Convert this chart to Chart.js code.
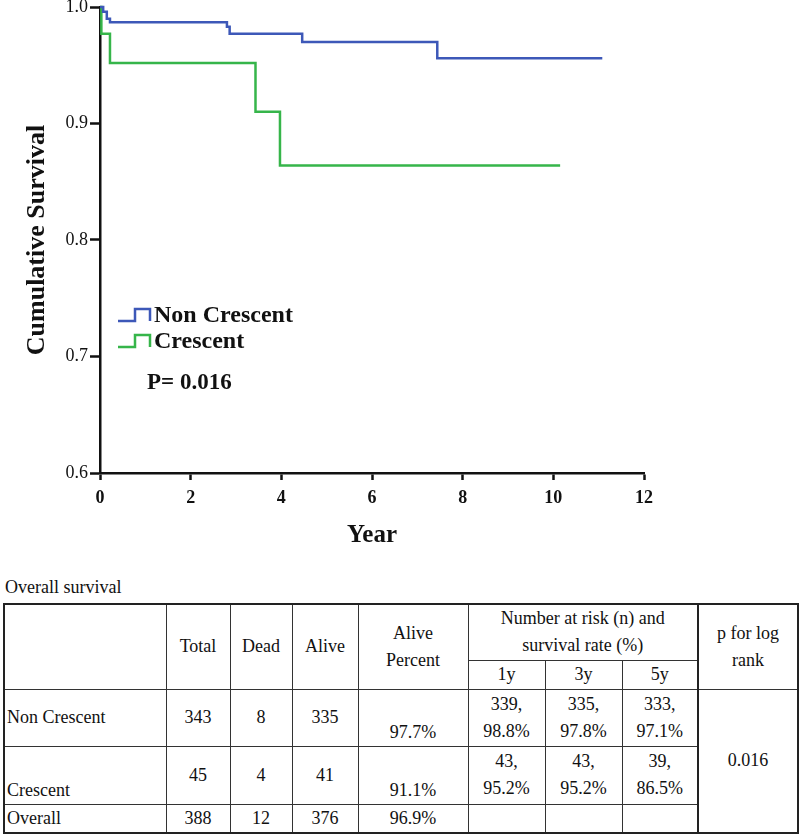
<!DOCTYPE html>
<html>
<head>
<meta charset="utf-8">
<script src="https://cdn.jsdelivr.net/npm/chart.js@4/dist/chart.umd.min.js"></script>
<style>
  body { margin: 0; background: #fff; width: 800px; height: 835px; position: relative; overflow: hidden; font-family: "Liberation Serif", "Times New Roman", serif; }
  #wrap { position: absolute; left: 0; top: 0; width: 800px; height: 560px; }
  #caption { position: absolute; left: 5px; top: 577px; font-size: 18px; color: #111; }
  table { position: absolute; left: 3px; top: 603px; width: 794px; border-collapse: collapse; table-layout: fixed; font-size: 18px; color: #111; border: 2px solid #222; }
  td { border: 1px solid #333; text-align: center; vertical-align: middle; padding: 0; line-height: 27px; }
  td.name { text-align: left; padding-left: 2px; }
  td.bot { vertical-align: bottom; }
  td.pcol { border-left: 2px solid #222; }
</style>
</head>
<body>
<div id="wrap"><canvas id="chart"></canvas></div>
<div id="caption">Overall survival</div>
<table>
  <colgroup>
    <col style="width:162px"><col style="width:64px"><col style="width:62px"><col style="width:66px">
    <col style="width:110px"><col style="width:77px"><col style="width:77px"><col style="width:76px"><col style="width:100px">
  </colgroup>
  <tr style="height:56px">
    <td rowspan="2"></td><td rowspan="2">Total</td><td rowspan="2">Dead</td><td rowspan="2">Alive</td>
    <td rowspan="2">Alive<br>Percent</td>
    <td colspan="3">Number at risk (n) and<br>survival rate (%)</td>
    <td rowspan="2" class="pcol">p for log<br>rank</td>
  </tr>
  <tr style="height:29px"><td>1y</td><td>3y</td><td>5y</td></tr>
  <tr style="height:57px">
    <td class="name">Non Crescent</td><td>343</td><td>8</td><td>335</td><td class="bot">97.7%</td>
    <td>339,<br>98.8%</td><td>335,<br>97.8%</td><td>333,<br>97.1%</td>
    <td rowspan="3" class="pcol">0.016</td>
  </tr>
  <tr style="height:58px">
    <td class="name bot">Crescent</td><td>45</td><td>4</td><td>41</td><td class="bot">91.1%</td>
    <td>43,<br>95.2%</td><td>43,<br>95.2%</td><td>39,<br>86.5%</td>
  </tr>
  <tr style="height:29px">
    <td class="name">Overall</td><td>388</td><td>12</td><td>376</td><td>96.9%</td>
    <td></td><td></td><td></td>
  </tr>
</table>
<script>
// Kaplan-Meier steps (years, cumulative survival)
const nonCrescentYears = [0, 0.07, 0.15, 0.22, 2.80, 2.86, 4.46, 7.44, 11.08];
const nonCrescentSurv  = [1.0, 0.996, 0.990, 0.987, 0.983, 0.977, 0.970, 0.956, 0.956];
const crescentYears = [0, 0.03, 0.22, 3.43, 3.97, 10.15];
const crescentSurv  = [1.0, 0.977, 0.952, 0.910, 0.864, 0.864];
const yTicks = [0.6, 0.7, 0.8, 0.9, 1.0];
const xTicks = [0, 2, 4, 6, 8, 10, 12];
const pText = 'P= 0.016';

const serif = '"Liberation Serif", "Times New Roman", serif';
const blue = '#3d58b8';
const green = '#36b54a';

const toPoints = (xs, ys) => xs.map((x, i) => ({ x: x, y: ys[i] }));

//==== legend with step icons drawn inside plot ====//
const stepLegend = {
    id: 'stepLegend',
    afterDatasetsDraw(chart) {
        const ctx = chart.ctx;
        const a = chart.chartArea;
        ctx.save();
        chart.data.datasets.forEach((ds, i) => {
            const base = a.top + 314 + i * 26;
            ctx.strokeStyle = ds.borderColor;
            ctx.lineWidth = 2.5;
            ctx.beginPath();
            ctx.moveTo(a.left + 18, base);
            ctx.lineTo(a.left + 35, base);
            ctx.lineTo(a.left + 35, base - 12);
            ctx.lineTo(a.left + 50, base - 12);
            ctx.lineTo(a.left + 50, base);
            ctx.stroke();
            ctx.fillStyle = '#111';
            ctx.font = 'bold 24px ' + serif;
            ctx.textBaseline = 'middle';
            ctx.fillText(ds.label, a.left + 54, base - 5);
        });
        ctx.font = 'bold 23px ' + serif;
        ctx.fillText(pText, a.left + 47, a.top + 376);
        ctx.restore();
    }
};

const chart = document.querySelector('#chart').getContext('2d');

new Chart(chart, {
    type: 'line',
    data: {
        datasets: [
            {
                label: 'Non Crescent',
                data: toPoints(nonCrescentYears, nonCrescentSurv),
                borderColor: blue,
                borderWidth: 2.5,
                stepped: true,
                pointRadius: 0,
                clip: 6
            },
            {
                label: 'Crescent',
                data: toPoints(crescentYears, crescentSurv),
                borderColor: green,
                borderWidth: 2.5,
                stepped: true,
                pointRadius: 0,
                clip: 6
            }
        ]
    },
    options: {
        responsive: true,
        maintainAspectRatio: false,
        animation: false,
        layout: { padding: { left: 0, right: 156, top: 7, bottom: 0 } },
        plugins: { legend: { display: false }, tooltip: { enabled: false } },
        scales: {
            x: {
                type: 'linear',
                min: 0,
                max: 12,
                afterBuildTicks: s => { s.ticks = xTicks.map(v => ({ value: v })); },
                afterFit: s => { s.height = 87; },
                ticks: { color: '#111', padding: 8, font: { family: serif, size: 18, weight: 'bold' } },
                grid: { drawOnChartArea: false, drawTicks: true, tickLength: 7, tickWidth: 2.5, tickColor: '#111' },
                border: { display: true, color: '#111', width: 2.5 },
                title: { display: true, text: 'Year', color: '#111', padding: { bottom: 9 }, font: { family: serif, size: 25, weight: 'bold' } }
            },
            y: {
                type: 'linear',
                min: 0.6,
                max: 1.0,
                afterBuildTicks: s => { s.ticks = yTicks.map(v => ({ value: v })); },
                afterFit: s => { s.width = 100; },
                ticks: { color: '#111', padding: 2, callback: v => v.toFixed(1), font: { family: serif, size: 18, lineHeight: 0.5 } },
                grid: { drawOnChartArea: false, drawTicks: true, tickLength: 10, tickWidth: 2.5, tickColor: '#111' },
                border: { display: true, color: '#111', width: 2.5 },
                title: { display: true, text: 'Cumulative Survival', color: '#111', padding: { top: 22 }, font: { family: serif, size: 26, weight: 'bold' } }
            }
        }
    },
    plugins: [stepLegend]
});
</script>
</body>
</html>
